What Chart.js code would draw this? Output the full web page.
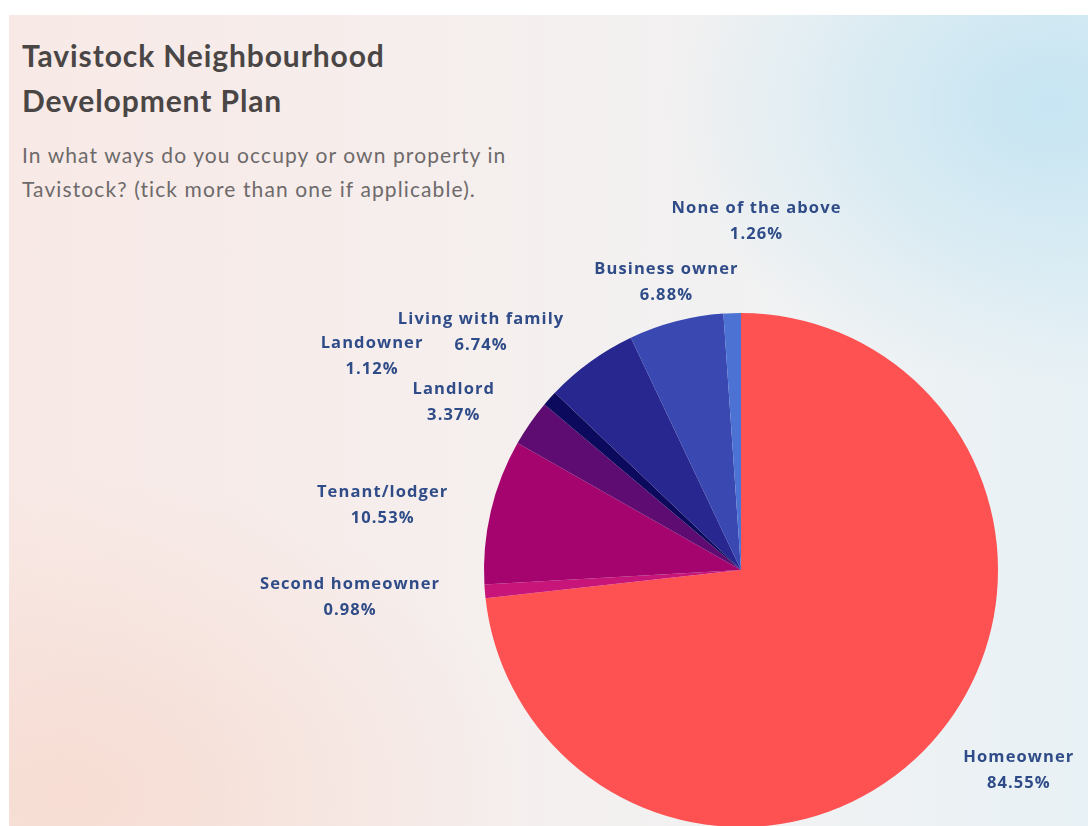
<!DOCTYPE html>
<html>
<head>
<meta charset="utf-8">
<script src="https://cdn.jsdelivr.net/npm/chart.js@4"></script>
<style>
  body { margin: 0; width: 1088px; height: 826px; overflow: hidden; background: #fff; position: relative; }
  #bg {
    position: absolute; left: 9px; top: 15px; right: 0; bottom: 0;
    background:
      radial-gradient(ellipse 380px 280px at 1040px 90px, rgba(196,228,242,0.95), rgba(196,228,242,0) 100%),
      radial-gradient(ellipse 460px 320px at 60px 780px, rgba(246,216,204,0.75), rgba(246,216,204,0) 100%),
      linear-gradient(90deg, #f8e9e6 0%, #f5efee 45%, #f0f2f3 75%, #e8f1f5 100%);
  }
  .title { position: absolute; left: 22px; font-family: Lato, sans-serif; font-weight: 700; font-size: 30px; color: #4b4646; letter-spacing: 0.9px; }
  .sub { position: absolute; left: 22px; font-family: Lato, sans-serif; font-size: 21px; color: #6e6a6a; letter-spacing: 1.1px; }
  #wrap { position: absolute; left: 0; top: 0; }
</style>
</head>
<body>
<div id="bg"></div>
<div class="title" style="top:37px">Tavistock Neighbourhood</div>
<div class="title" style="top:82px">Development Plan</div>
<div class="sub" style="top:142px">In what ways do you occupy or own property in</div>
<div class="sub" style="top:176px">Tavistock? (tick more than one if applicable).</div>
<div id="wrap"><canvas id="myChart" width="1088" height="830"></canvas></div>
<script>
// Data
var categories = ['Homeowner', 'Second homeowner', 'Tenant/lodger', 'Landlord', 'Landowner', 'Living with family', 'Business owner', 'None of the above'];
var percents = [84.55, 0.98, 10.53, 3.37, 1.12, 6.74, 6.88, 1.26];
var sliceColors = ['#fd5152', '#c8157a', '#a5036e', '#5e0b72', '#0c0a5c', '#27278f', '#3a48b2', '#4c72d4'];
// label nudges (px) from the default spot outside each slice
var labelNudge = [[29, -23], [-58, -1], [-33, 11], [-13, 23], [-120, 9], [-64, 33], [10, 36], [27, -15]];

var labelPlugin = {
    id: 'sliceLabels',
    afterDatasetsDraw: function (chart) {
        var ctx = chart.ctx;
        var arcs = chart.getDatasetMeta(0).data;
        ctx.save();
        ctx.font = 'bold 16.5px "Open Sans"';
        ctx.letterSpacing = '1.1px';
        ctx.fillStyle = '#2f4c88';
        ctx.textAlign = 'center';
        ctx.textBaseline = 'middle';
        arcs.forEach(function (arc, i) {
            var mid = (arc.startAngle + arc.endAngle) / 2;
            var r = arc.outerRadius * 1.3;
            var x = arc.x + Math.cos(mid) * r + labelNudge[i][0];
            var y = arc.y + Math.sin(mid) * r + labelNudge[i][1];
            ctx.fillText(categories[i], x, y - 13);
            ctx.fillText(percents[i].toFixed(2) + '%', x, y + 13);
        });
        ctx.restore();
    }
};

var myPie = new Chart(document.getElementById('myChart'), {
    type: 'pie',
    data: {
        labels: categories,
        datasets: [{
            data: percents,
            backgroundColor: sliceColors,
            borderWidth: 0
        }]
    },
    options: {
        responsive: false,
        animation: false,
        layout: { padding: { left: 484, right: 90, top: 313, bottom: 3 } },
        plugins: {
            legend: { display: false },
            tooltip: { enabled: false }
        }
    },
    plugins: [labelPlugin]
});
</script>
</body>
</html>
